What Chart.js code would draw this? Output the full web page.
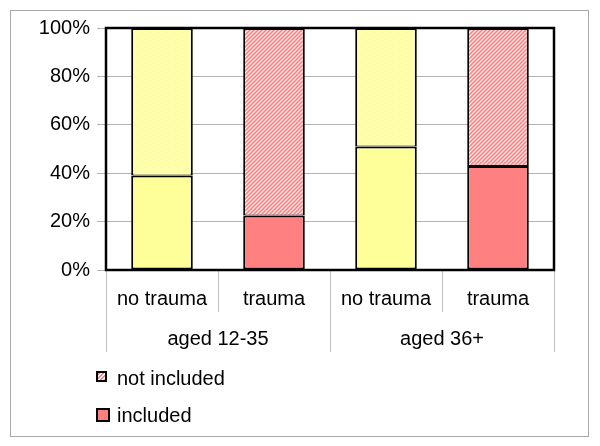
<!DOCTYPE html>
<html>
<head>
<meta charset="utf-8">
<script src="https://cdn.jsdelivr.net/npm/chart.js@4"></script>
<style>
  body { margin: 0; background: #fff; }
  #wrap { position: relative; width: 600px; height: 446px; }
  #frame { position: absolute; left: 10px; top: 10px; width: 577px; height: 425px; border: 1px solid #a8a8a8; }
  canvas { position: absolute; left: 0; top: 0; }
  .lbox { position: absolute; border: 2px solid #000; box-sizing: border-box; }
  .ltext { position: absolute; left: 117px; font: 20px "Liberation Sans", Arial, sans-serif; color: #000; line-height: 24px; }
</style>
</head>
<body>
<div id="wrap">
  <div id="frame"></div>
  <canvas id="chart" width="600" height="446"></canvas>
  <div class="lbox" style="left:96px; top:371px; width:11px; height:11px; background: repeating-linear-gradient(135deg, #ff8080 0 1.5px, #fff 1.5px 3px);"></div>
  <div class="ltext" style="top:366px;">not included</div>
  <div class="lbox" style="left:96px; top:408px; width:14px; height:14px; background:#ff8080;"></div>
  <div class="ltext" style="top:403px;">included</div>
</div>
<script>
// values
const categories = ["no trauma", "trauma", "no trauma", "trauma"];
const groups = ["aged 12-35", "aged 36+"];
const included = [39, 22.5, 51, 43];
const notIncluded = [61, 77.5, 49, 57];
const yTicks = [0, 20, 40, 60, 80, 100];

const solid = ["#ffff99", "#ff8080", "#ffff99", "#ff8080"];

// diagonal hatch fill for the "not included" part
function hatch(color) {
  const c = document.createElement("canvas");
  c.width = 4; c.height = 4;
  const g = c.getContext("2d");
  g.fillStyle = "#fff";
  g.fillRect(0, 0, 4, 4);
  g.strokeStyle = color;
  g.lineWidth = 1.6;
  g.beginPath();
  g.moveTo(0, 4); g.lineTo(4, 0);
  g.moveTo(-1, 1); g.lineTo(1, -1);
  g.moveTo(3, 5); g.lineTo(5, 3);
  g.stroke();
  return g.createPattern(c, "repeat");
}
const yellowHatch = hatch("#ffff80");
const redHatch = hatch("#ff8080");
const hatched = [yellowHatch, redHatch, yellowHatch, redHatch];

// black box round the plot area
const plotFrame = {
  id: "plotFrame",
  afterDatasetsDraw(chart) {
    const { ctx, chartArea: a } = chart;
    ctx.save();
    ctx.strokeStyle = "#000";
    ctx.lineWidth = 2.5;
    ctx.strokeRect(a.left, a.top, a.right - a.left, a.bottom - a.top);
    ctx.restore();
  }
};

Chart.defaults.font.family = "'Liberation Sans', Arial, sans-serif";
Chart.defaults.font.size = 20;
Chart.defaults.color = "#000";

new Chart(document.getElementById("chart"), {
  type: "bar",
  data: {
    labels: categories,
    datasets: [
      {
        label: "included",
        data: included,
        backgroundColor: solid,
        borderColor: "#000",
        borderWidth: { top: 2, left: 2, right: 2, bottom: 2 },
        borderSkipped: false,
        barPercentage: 0.55,
        categoryPercentage: 1,
      },
      {
        label: "not included",
        data: notIncluded,
        backgroundColor: hatched,
        borderColor: "#000",
        borderWidth: { top: 2, left: 2, right: 2, bottom: 1 },
        borderSkipped: false,
        barPercentage: 0.55,
        categoryPercentage: 1,
      }
    ]
  },
  options: {
    responsive: false,
    animation: false,
    layout: { padding: { left: 30, right: 46, top: 28, bottom: 94 } },
    plugins: {
      legend: { display: false },
      tooltip: { enabled: false },
    },
    scales: {
      x: {
        stacked: true,
        weight: 0,
        border: { display: false },
        grid: { offset: true, drawOnChartArea: false, tickLength: 42, color: "#c0c0c0" },
        ticks: { padding: -25, maxRotation: 0, autoSkip: false },
        afterFit: s => { s.height = 42; },
      },
      x2: {
        type: "category",
        labels: groups,
        position: "bottom",
        offset: true,
        weight: 1,
        border: { display: false },
        grid: { offset: true, drawOnChartArea: false, tickLength: 40, color: "#c0c0c0" },
        ticks: { padding: -25, maxRotation: 0 },
        afterFit: s => { s.height = 40; },
      },
      y: {
        stacked: true,
        min: 0,
        max: 100,
        border: { display: false },
        grid: { color: "#b4b4b4", tickLength: 9 },
        afterBuildTicks: s => { s.ticks = yTicks.map(v => ({ value: v })); },
        ticks: { padding: 7, callback: v => v + "%" },
        afterFit: s => { s.width = 76; },
      }
    }
  },
  plugins: [plotFrame]
});
</script>
</body>
</html>
